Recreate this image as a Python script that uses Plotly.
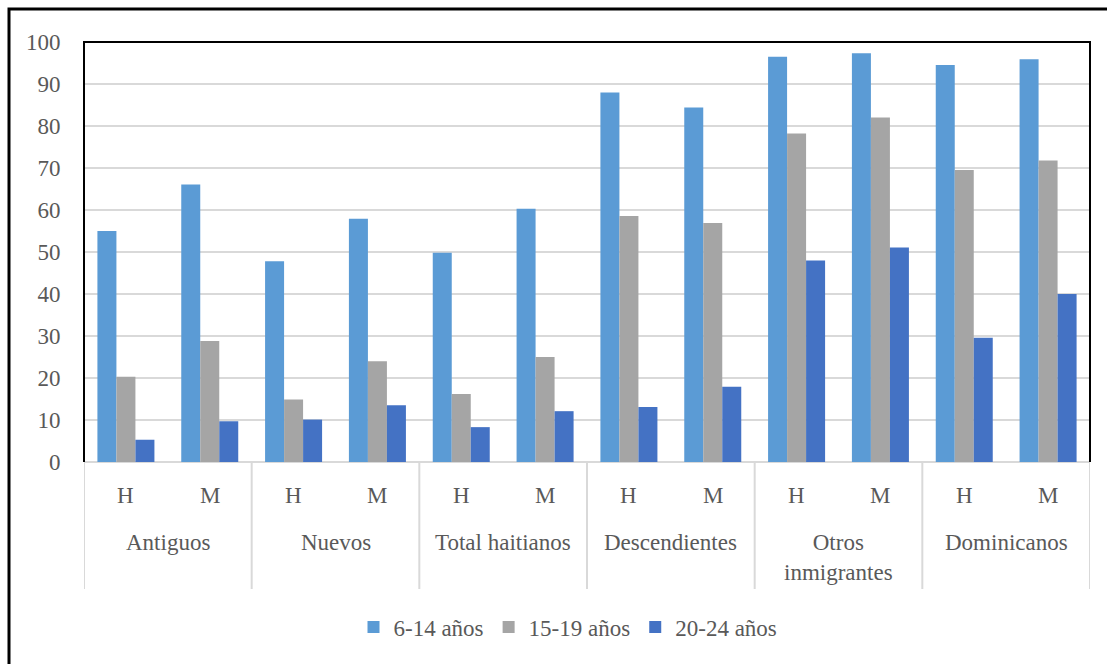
import plotly.graph_objects as go

# Groups, sexes and age-band series (percentages)
groups = ["Antiguos", "Nuevos", "Total haitianos", "Descendientes",
          "Otros<br>inmigrantes", "Dominicanos"]
sexes = ["H", "M"]
series_names = ["6-14 años", "15-19 años", "20-24 años"]
colors = ["#5B9BD5", "#A5A5A5", "#4472C4"]

age_6_14 = [55.0, 66.1, 47.8, 57.9, 49.8, 60.3, 88.0, 84.4, 96.5, 97.3, 94.5, 95.9]
age_15_19 = [20.3, 28.8, 14.9, 24.0, 16.2, 25.0, 58.6, 56.9, 78.2, 82.0, 69.5, 71.8]
age_20_24 = [5.3, 9.7, 10.1, 13.5, 8.3, 12.1, 13.1, 17.9, 48.0, 51.1, 29.6, 40.0]

values = [age_6_14, age_15_19, age_20_24]
x_pos = list(range(len(groups) * len(sexes)))

FONT = "'Liberation Serif', 'Times New Roman', Tinos, serif"
FS = 23
TXT = "#595959"
GRID = "#D9D9D9"

fig = go.Figure()
for name, col, vals in zip(series_names, colors, values):
    fig.add_trace(go.Bar(x=x_pos, y=vals, name=name, marker=dict(color=col, line=dict(width=0))))

# plot area: 84..1090 px wide, 42..462 px tall
L, R, T, B = 84, 1090, 42, 462
W, H = 1107, 664
pw, ph = R - L, B - T

def py(y_px):
    return (B - y_px) / ph

def px(x_px):
    return (x_px - L) / pw

annotations = []
for i, xv in enumerate(x_pos):
    annotations.append(dict(x=xv, y=py(495), xref="x", yref="paper", text=sexes[i % 2],
                            showarrow=False, yanchor="middle",
                            font=dict(family=FONT, size=FS, color=TXT)))
for g, name in enumerate(groups):
    annotations.append(dict(x=2 * g + 0.5, y=py(528), xref="x", yref="paper", text=name,
                            showarrow=False, yanchor="top",
                            font=dict(family=FONT, size=FS, color=TXT)))

shapes = []
# group dividers below the axis
for g in range(len(groups) + 1):
    shapes.append(dict(type="line", xref="x", yref="paper", x0=2 * g - 0.5, x1=2 * g - 0.5,
                       y0=0, y1=py(589), line=dict(color=GRID, width=2)))
# black border on left, top and right of the plot area
shapes.append(dict(type="path", xref="paper", yref="paper",
                   path="M 0 0 L 0 1 L 1 1 L 1 0", line=dict(color="black", width=2)))
# outer frame (top and left edges)
shapes.append(dict(type="path", xref="paper", yref="paper",
                   path=f"M {px(9)} {py(700)} L {px(9)} {py(9)} L {px(1120)} {py(9)}",
                   line=dict(color="black", width=3)))

fig.update_layout(
    width=W, height=H,
    margin=dict(l=L, r=W - R, t=T, b=H - B, pad=0),
    paper_bgcolor="white", plot_bgcolor="white",
    font=dict(family=FONT, color=TXT),
    barmode="group", bargap=0.32, bargroupgap=0,
    showlegend=True,
    legend=dict(orientation="h", x=px(568), xanchor="center", y=py(627), yanchor="middle",
                font=dict(family=FONT, size=FS, color=TXT), itemwidth=30,
                bgcolor="rgba(0,0,0,0)"),
    xaxis=dict(range=[-0.5, 11.5], showticklabels=False, showgrid=False, zeroline=False,
               showline=False, ticks=""),
    yaxis=dict(range=[0, 100], dtick=10, showgrid=True, gridcolor=GRID, gridwidth=2,
               zeroline=True, zerolinecolor=GRID, zerolinewidth=2, showline=False,
               ticks="outside", ticklen=18, tickcolor="rgba(0,0,0,0)",
               tickfont=dict(family=FONT, size=FS, color=TXT)),
    annotations=annotations,
    shapes=shapes,
)

fig.write_html("out.html")
